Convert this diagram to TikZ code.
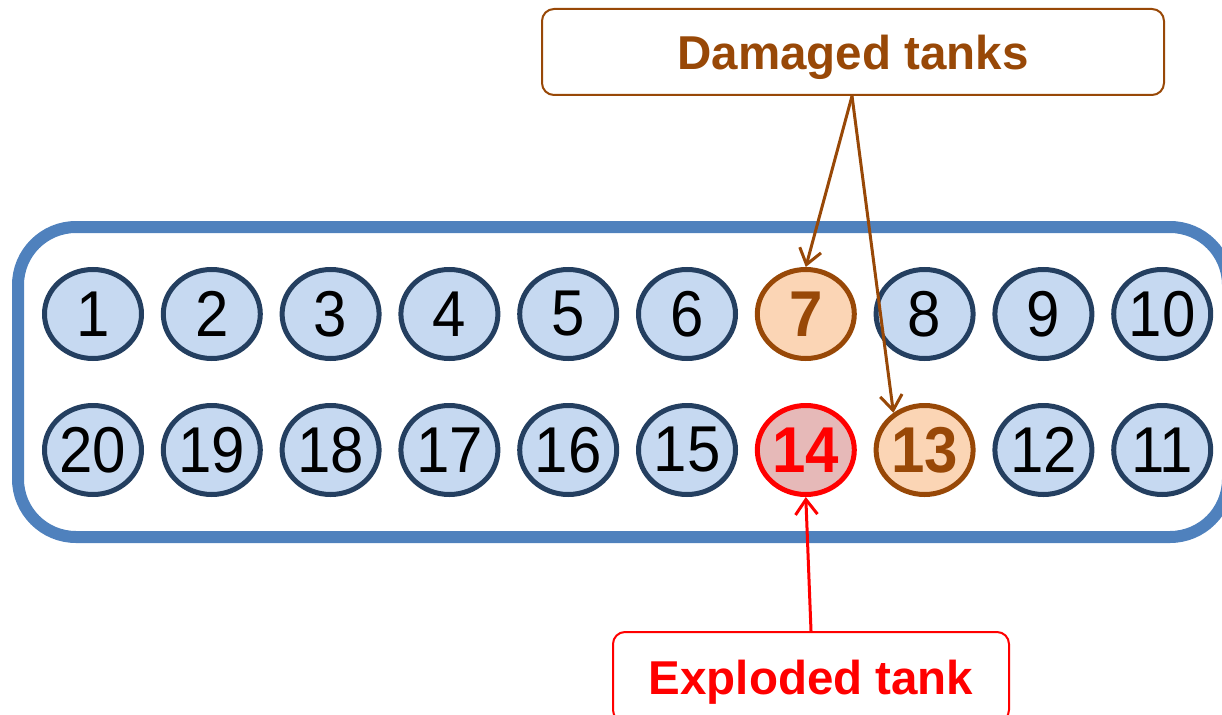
\documentclass[tikz,border=0pt]{standalone}
\usepackage{fontspec}
\usepackage{graphicx}
\setmainfont{Liberation Sans}
\usetikzlibrary{shapes.geometric,arrows.meta}

\definecolor{tankfill}{HTML}{C6D9F1}
\definecolor{tankline}{HTML}{243F60}
\definecolor{frameblue}{HTML}{4F81BD}
\definecolor{dmgfill}{HTML}{FBD5B5}
\definecolor{dmgline}{HTML}{984807}
\definecolor{expfill}{HTML}{E6B9B8}
\definecolor{expline}{HTML}{FF0000}

\tikzset{
  tank/.style={ellipse, draw=tankline, fill=tankfill, text=black,
    line width=5pt, minimum width=97pt, minimum height=89pt, inner sep=0pt,
    font=\fontsize{60}{60}\selectfont},
  dmgtank/.style={tank, draw=dmgline, fill=dmgfill, text=dmgline,
    font=\fontsize{60}{60}\selectfont\bfseries},
  exptank/.style={tank, draw=expline, fill=expfill, text=expline,
    font=\fontsize{60}{60}\selectfont\bfseries},
  callout/.style={draw, rounded corners=12pt, line width=2pt, fill=white,
    inner sep=0pt, text depth=0pt, font=\fontsize{47.5}{50}\selectfont\bfseries},
  pointer/.style={-{Straight Barb[length=15pt,width=22pt,line width=3pt]},
    line width=3pt}
}

\begin{document}
\begin{tikzpicture}[x=1pt,y=-1pt]
  \clip (0,0) rectangle (1222,714);

  % tank rack frame
  \draw[frameblue, line width=12pt, rounded corners=58pt]
    (18,227) rectangle (1228,537);

  % tanks: number / column / row / style
  \foreach \n/\c/\r/\s in {
      1/0/0/tank, 2/1/0/tank, 3/2/0/tank, 4/3/0/tank, 5/4/0/tank,
      6/5/0/tank, 7/6/0/dmgtank, 8/7/0/tank, 9/8/0/tank, 10/9/0/tank,
      20/0/1/tank, 19/1/1/tank, 18/2/1/tank, 17/3/1/tank, 16/4/1/tank,
      15/5/1/tank, 14/6/1/exptank, 13/7/1/dmgtank, 12/8/1/tank, 11/9/1/tank}
    \node[\s] (t\n) at ({93+\c*118.8},{314+\r*136}) {\scalebox{1}[1.08]{\n}};

  % callouts
  \node[callout, draw=dmgline, text=dmgline, minimum width=622pt,
        minimum height=86pt] (dmg) at (853,52) {Damaged tanks};
  \node[callout, draw=expline, text=expline, minimum width=396pt,
        minimum height=90pt] (exp) at (811,677) {Exploded tank};

  % pointers
  \coordinate (dmgfoot) at ([xshift=-1pt]dmg.south);
  \draw[pointer, dmgline] (dmgfoot) -- (t7.north);
  \draw[pointer, dmgline] (dmgfoot) -- (t13.130);
  \draw[pointer, expline] (exp.north) -- (t14.south);
\end{tikzpicture}
\end{document}
